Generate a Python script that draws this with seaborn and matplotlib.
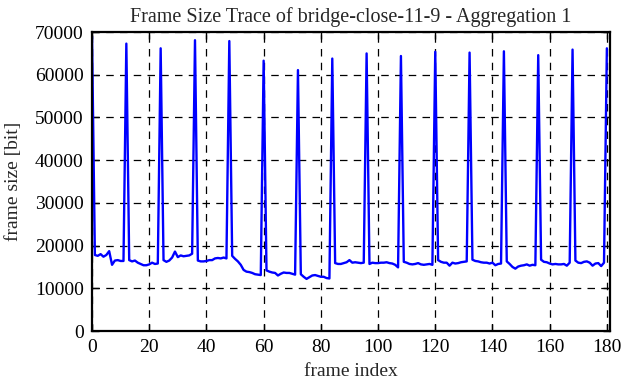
import matplotlib
matplotlib.use("Agg")
import matplotlib.pyplot as plt
import numpy as np
import pandas as pd
import seaborn as sns

# I-frame sizes (every 12th frame, frames 0, 12, ..., 180)
i_frame_sizes = [69000, 67300, 66200, 68100, 67900, 63300, 61100, 63800,
                 65000, 64400, 65400, 65200, 65500, 64600, 65900, 66200]

# the 11 frames between consecutive I-frames, one row per GOP
other_frame_sizes = [
    [17800, 17600, 18000, 17400, 17800, 18700, 15500, 16500, 16600, 16400, 16400],
    [16600, 16300, 16500, 16000, 15700, 15400, 15400, 15600, 16000, 15700, 15800],
    [16600, 16200, 16500, 17200, 18600, 17300, 17700, 17500, 17600, 17700, 18100],
    [16500, 16300, 16300, 16400, 16600, 16600, 17000, 17100, 17000, 17200, 17000],
    [17600, 16900, 16300, 15500, 14300, 13900, 13800, 13600, 13300, 13200, 13100],
    [14200, 13900, 13700, 13600, 13000, 13400, 13700, 13600, 13600, 13400, 13200],
    [13300, 12700, 12200, 12600, 13000, 13100, 12900, 12700, 12700, 12400, 12300],
    [15900, 15700, 15700, 15900, 16100, 16600, 16000, 16100, 16000, 15900, 16000],
    [15700, 16000, 15900, 15900, 16000, 16000, 16100, 15900, 15800, 15500, 14900],
    [16200, 16000, 15700, 15600, 15700, 15900, 15600, 15500, 15600, 15700, 15500],
    [16600, 16200, 16000, 16000, 15300, 16000, 15800, 15900, 16100, 16200, 16300],
    [16700, 16400, 16300, 16100, 16000, 16000, 15800, 16000, 15400, 15700, 15800],
    [16300, 15700, 15000, 14600, 15100, 15300, 15400, 15600, 15300, 15500, 15400],
    [16700, 16200, 16100, 15800, 15600, 15700, 15600, 15600, 15700, 15300, 16000],
    [16500, 16000, 15900, 16200, 16300, 16000, 15300, 15800, 15900, 15200, 16000],
]

x_ticks = [0, 20, 40, 60, 80, 100, 120, 140, 160, 180]
y_ticks = [0, 10000, 20000, 30000, 40000, 50000, 60000, 70000]

sizes = []
for gop, rest in enumerate(other_frame_sizes):
    sizes.append(i_frame_sizes[gop])
    sizes.extend(rest)
sizes.append(i_frame_sizes[-1])
df = pd.DataFrame({"frame": np.arange(len(sizes)), "size": sizes})

sns.set_style("ticks")
plt.rcParams["font.family"] = ["Liberation Serif", "DejaVu Serif"]
plt.rcParams["font.size"] = 14

fig = plt.figure(figsize=(6.23, 3.82), dpi=100)
ax = fig.add_axes([0.1477, 0.1335, 0.831, 0.7825])

sns.lineplot(data=df, x="frame", y="size", color="#0000ff", linewidth=1.7, ax=ax)

ax.set_xlim(0, 181)
ax.set_ylim(0, 70000)
ax.set_xticks(x_ticks)
ax.set_yticks(y_ticks)
ax.grid(True, color="black", linestyle=(0, (6, 5)), linewidth=0.9)
ax.tick_params(direction="in", length=5, width=1, top=True, right=True,
               labelsize=14, pad=6, colors="black")
for s in ax.spines.values():
    s.set_linewidth(1.6)
    s.set_color("black")

ax.set_title("Frame Size Trace of bridge-close-11-9 - Aggregation 1", fontsize=14.5, pad=7)
ax.set_xlabel("frame index", fontsize=14, labelpad=5)
ax.set_ylabel("frame size [bit]", fontsize=14, labelpad=9)

fig.savefig("out.png", dpi=100)
